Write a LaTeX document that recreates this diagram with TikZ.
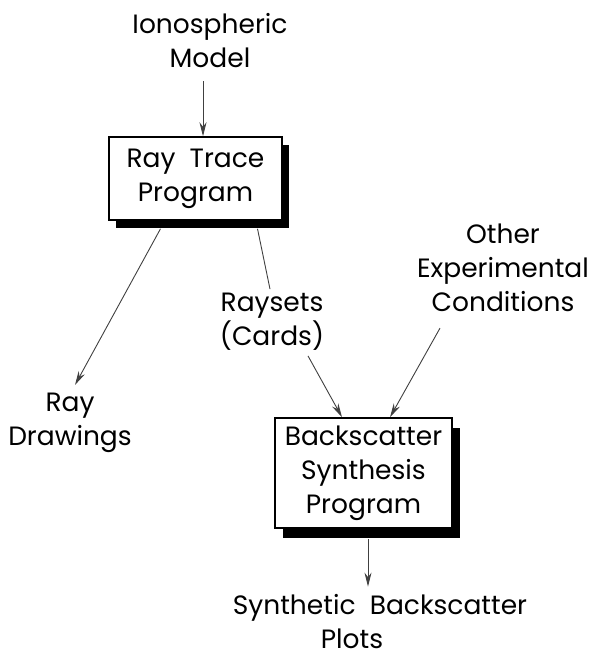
\documentclass[tikz,border=0pt]{standalone}
\usepackage{fontspec}
\setmainfont{Poppins}
\usetikzlibrary{shadows,arrows.meta,calc}
\begin{document}
\begin{tikzpicture}[x=1pt,y=-1pt,
  lbl/.style={align=center,font=\fontsize{26.5}{34}\selectfont,inner sep=0pt},
  prog/.style={draw,line width=1.5pt,fill=white,align=center,
    font=\fontsize{26.5}{34}\selectfont,inner sep=0pt},
  arr/.style={-{Stealth[length=14pt,width=7pt]},line width=0.9pt,draw=black!75},
  ln/.style={line width=0.9pt,draw=black!75}]
\useasboundingbox (0,0) rectangle (594,659);
\node[lbl] (model) at (210,41) {Ionospheric\\Model};
\node[prog,minimum width=173pt,minimum height=83pt,
  drop shadow={shadow xshift=7pt,shadow yshift=-8pt,opacity=1,fill=black}] (rt) at (195.5,178.5) {Ray\ \ Trace\\Program};
\node[lbl] (dr) at (70,423) {Ray\\Drawings};
\node[lbl] (rs) at (272,322) {Raysets\\(Cards)};
\node[lbl] (oc) at (503,268) {Other\\Experimental\\Conditions};
\node[prog,minimum width=177pt,minimum height=110pt,
  drop shadow={shadow xshift=8pt,shadow yshift=-10pt,opacity=1,fill=black}] (bs) at (363.5,473) {Backscatter\\Synthesis\\Program};
\node[lbl] (sy) at (380,622) {Synthetic\ \ Backscatter\\Plots\hspace*{56pt}};
\draw[arr] ([xshift=-7pt,yshift=-13pt]model.south) -- ([xshift=7.5pt]rt.north);
\draw[arr] ([xshift=-35pt,yshift=-8pt]rt.south) -- ([xshift=5pt,yshift=8pt]dr.north);
\draw[ln] ([xshift=62pt,yshift=-8pt]rt.south) -- ([xshift=-2pt,yshift=4pt]rs.north);
\draw[arr] ([xshift=36pt,yshift=-5pt]rs.south) -- ([xshift=-21.5pt]bs.north);
\draw[arr] ([xshift=-63pt,yshift=-16pt]oc.south) -- ([xshift=26.5pt]bs.north);
\draw[arr] ([xshift=4.5pt,yshift=-10pt]bs.south) -- ([xshift=-12pt,yshift=8pt]sy.north);
\end{tikzpicture}
\end{document}
